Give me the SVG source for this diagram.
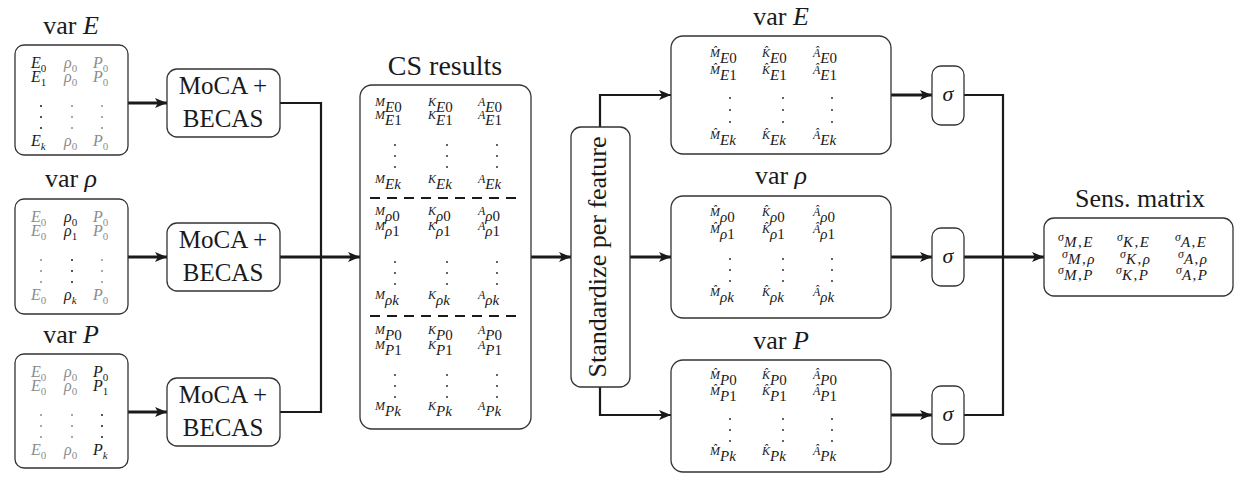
<svg xmlns="http://www.w3.org/2000/svg" width="1236" height="477" viewBox="0 0 1236 477" font-family="Liberation Serif, serif">
<style>
.box{fill:#fff;stroke:#333;stroke-width:1.3}
.arr{fill:none;stroke:#1a1a1a;stroke-width:2.8}
.bus{fill:none;stroke:#1a1a1a;stroke-width:2.2}
.dash{stroke:#1a1a1a;stroke-width:2.2;stroke-dasharray:10 7}
.dk{fill:#1a1a1a}
.dg{fill:#8c8c8c}
</style>
<defs>
<marker id="ah" viewBox="0 0 12 10" refX="12" refY="5" markerWidth="12" markerHeight="10" markerUnits="userSpaceOnUse" orient="auto"><path d="M0,0 L12,5 L0,10 L3,5 z" fill="#1a1a1a"/></marker>
</defs>

<g id="connectors">
<path class="arr" d="M128,103 H167" marker-end="url(#ah)"/>
<path class="arr" d="M128,257 H167" marker-end="url(#ah)"/>
<path class="arr" d="M128,412 H167" marker-end="url(#ah)"/>
<path class="bus" d="M280,103 H321 V412 H280"/>
<path class="arr" d="M280,257 H360" marker-end="url(#ah)"/>
<path class="arr" d="M531,257 H571" marker-end="url(#ah)"/>
<path class="bus" d="M600,127 V95 H671" marker-end="url(#ah)"/>
<path class="arr" d="M630,257 H671" marker-end="url(#ah)"/>
<path class="bus" d="M600,387 V415 H671" marker-end="url(#ah)"/>
<path class="arr" d="M891,95 H932" marker-end="url(#ah)"/>
<path class="arr" d="M891,257 H932" marker-end="url(#ah)"/>
<path class="arr" d="M891,415 H932" marker-end="url(#ah)"/>
<path class="bus" d="M964,95 H1003 V415 H964"/>
<path class="arr" d="M964,257 H1044" marker-end="url(#ah)"/>
</g>

<g id="inE">
<text x="71" y="34" font-family="Liberation Serif, serif" font-size="26" text-anchor="middle" fill="#1a1a1a">var <tspan font-style="italic">E</tspan></text>
<rect class="box" x="15" y="45" width="113" height="110" rx="9"/>
<g font-family="Liberation Serif, serif" font-size="16" font-style="italic" fill="#1a1a1a">
<text x="31" y="68">E<tspan font-size="11" font-style="normal" dy="4">0</tspan></text>
<text x="64" y="68" fill="#8c8c8c">ρ<tspan font-size="11" font-style="normal" dy="4">0</tspan></text>
<text x="93" y="68" fill="#8c8c8c">P<tspan font-size="11" font-style="normal" dy="4">0</tspan></text>
<text x="31" y="82">E<tspan font-size="11" font-style="normal" dy="4">1</tspan></text>
<text x="64" y="82" fill="#8c8c8c">ρ<tspan font-size="11" font-style="normal" dy="4">0</tspan></text>
<text x="93" y="82" fill="#8c8c8c">P<tspan font-size="11" font-style="normal" dy="4">0</tspan></text>
<text x="31" y="146">E<tspan font-size="11" dy="4">k</tspan></text>
<text x="64" y="146" fill="#8c8c8c">ρ<tspan font-size="11" font-style="normal" dy="4">0</tspan></text>
<text x="93" y="146" fill="#8c8c8c">P<tspan font-size="11" font-style="normal" dy="4">0</tspan></text>
</g>
<circle class="dk" cx="41" cy="106" r="1"/><circle class="dk" cx="41" cy="117" r="1"/><circle class="dk" cx="41" cy="128" r="1"/>
<circle class="dg" cx="72" cy="106" r="1"/><circle class="dg" cx="72" cy="117" r="1"/><circle class="dg" cx="72" cy="128" r="1"/>
<circle class="dg" cx="102" cy="106" r="1"/><circle class="dg" cx="102" cy="117" r="1"/><circle class="dg" cx="102" cy="128" r="1"/>
</g>

<g id="inRho">
<text x="71" y="187" font-family="Liberation Serif, serif" font-size="26" text-anchor="middle" fill="#1a1a1a">var <tspan font-style="italic">ρ</tspan></text>
<rect class="box" x="15" y="199" width="113" height="115" rx="9"/>
<g font-family="Liberation Serif, serif" font-size="16" font-style="italic" fill="#1a1a1a">
<text x="31" y="222" fill="#8c8c8c">E<tspan font-size="11" font-style="normal" dy="4">0</tspan></text>
<text x="64" y="222">ρ<tspan font-size="11" font-style="normal" dy="4">0</tspan></text>
<text x="93" y="222" fill="#8c8c8c">P<tspan font-size="11" font-style="normal" dy="4">0</tspan></text>
<text x="31" y="236" fill="#8c8c8c">E<tspan font-size="11" font-style="normal" dy="4">0</tspan></text>
<text x="64" y="236">ρ<tspan font-size="11" font-style="normal" dy="4">1</tspan></text>
<text x="93" y="236" fill="#8c8c8c">P<tspan font-size="11" font-style="normal" dy="4">0</tspan></text>
<text x="31" y="300" fill="#8c8c8c">E<tspan font-size="11" font-style="normal" dy="4">0</tspan></text>
<text x="64" y="300">ρ<tspan font-size="11" dy="4">k</tspan></text>
<text x="93" y="300" fill="#8c8c8c">P<tspan font-size="11" font-style="normal" dy="4">0</tspan></text>
</g>
<circle class="dg" cx="41" cy="260" r="1"/><circle class="dg" cx="41" cy="271" r="1"/><circle class="dg" cx="41" cy="282" r="1"/>
<circle class="dk" cx="72" cy="260" r="1"/><circle class="dk" cx="72" cy="271" r="1"/><circle class="dk" cx="72" cy="282" r="1"/>
<circle class="dg" cx="102" cy="260" r="1"/><circle class="dg" cx="102" cy="271" r="1"/><circle class="dg" cx="102" cy="282" r="1"/>
</g>

<g id="inP">
<text x="71" y="343" font-family="Liberation Serif, serif" font-size="26" text-anchor="middle" fill="#1a1a1a">var <tspan font-style="italic">P</tspan></text>
<rect class="box" x="15" y="354" width="113" height="114" rx="9"/>
<g font-family="Liberation Serif, serif" font-size="16" font-style="italic" fill="#1a1a1a">
<text x="31" y="377" fill="#8c8c8c">E<tspan font-size="11" font-style="normal" dy="4">0</tspan></text>
<text x="64" y="377" fill="#8c8c8c">ρ<tspan font-size="11" font-style="normal" dy="4">0</tspan></text>
<text x="93" y="377">P<tspan font-size="11" font-style="normal" dy="4">0</tspan></text>
<text x="31" y="391" fill="#8c8c8c">E<tspan font-size="11" font-style="normal" dy="4">0</tspan></text>
<text x="64" y="391" fill="#8c8c8c">ρ<tspan font-size="11" font-style="normal" dy="4">0</tspan></text>
<text x="93" y="391">P<tspan font-size="11" font-style="normal" dy="4">1</tspan></text>
<text x="31" y="455" fill="#8c8c8c">E<tspan font-size="11" font-style="normal" dy="4">0</tspan></text>
<text x="64" y="455" fill="#8c8c8c">ρ<tspan font-size="11" font-style="normal" dy="4">0</tspan></text>
<text x="93" y="455">P<tspan font-size="11" dy="4">k</tspan></text>
</g>
<circle class="dg" cx="41" cy="415" r="1"/><circle class="dg" cx="41" cy="426" r="1"/><circle class="dg" cx="41" cy="437" r="1"/>
<circle class="dg" cx="72" cy="415" r="1"/><circle class="dg" cx="72" cy="426" r="1"/><circle class="dg" cx="72" cy="437" r="1"/>
<circle class="dk" cx="102" cy="415" r="1"/><circle class="dk" cx="102" cy="426" r="1"/><circle class="dk" cx="102" cy="437" r="1"/>
</g>

<g id="moca1">
<rect class="box" x="167" y="69" width="113" height="68" rx="10"/>
<text x="223" y="94" font-family="Liberation Serif, serif" font-size="25" text-anchor="middle" fill="#1a1a1a">MoCA +</text>
<text x="223" y="127" font-family="Liberation Serif, serif" font-size="25" text-anchor="middle" fill="#1a1a1a">BECAS</text>
</g>
<g id="moca2">
<rect class="box" x="167" y="223" width="113" height="68" rx="10"/>
<text x="223" y="248" font-family="Liberation Serif, serif" font-size="25" text-anchor="middle" fill="#1a1a1a">MoCA +</text>
<text x="223" y="281" font-family="Liberation Serif, serif" font-size="25" text-anchor="middle" fill="#1a1a1a">BECAS</text>
</g>
<g id="moca3">
<rect class="box" x="167" y="378" width="113" height="68" rx="10"/>
<text x="223" y="403" font-family="Liberation Serif, serif" font-size="25" text-anchor="middle" fill="#1a1a1a">MoCA +</text>
<text x="223" y="436" font-family="Liberation Serif, serif" font-size="25" text-anchor="middle" fill="#1a1a1a">BECAS</text>
</g>

<g id="cs">
<text x="445" y="75" font-family="Liberation Serif, serif" font-size="28" text-anchor="middle" fill="#1a1a1a">CS results</text>
<rect class="box" x="360" y="85" width="171" height="344" rx="12"/>
<g font-family="Liberation Serif, serif" font-size="12" font-style="italic" fill="#1a1a1a">
<text x="375" y="106">M<tspan font-size="15" dy="6">E</tspan><tspan font-size="15" font-style="normal">0</tspan></text>
<text x="428" y="106">K<tspan font-size="15" dy="6">E</tspan><tspan font-size="15" font-style="normal">0</tspan></text>
<text x="478" y="106">A<tspan font-size="15" dy="6">E</tspan><tspan font-size="15" font-style="normal">0</tspan></text>
<text x="375" y="119">M<tspan font-size="15" dy="6">E</tspan><tspan font-size="15" font-style="normal">1</tspan></text>
<text x="428" y="119">K<tspan font-size="15" dy="6">E</tspan><tspan font-size="15" font-style="normal">1</tspan></text>
<text x="478" y="119">A<tspan font-size="15" dy="6">E</tspan><tspan font-size="15" font-style="normal">1</tspan></text>
<text x="375" y="183">M<tspan font-size="15" dy="6">Ek</tspan></text>
<text x="428" y="183">K<tspan font-size="15" dy="6">Ek</tspan></text>
<text x="478" y="183">A<tspan font-size="15" dy="6">Ek</tspan></text>
<text x="375" y="215">M<tspan font-size="15" dy="6">ρ</tspan><tspan font-size="15" font-style="normal">0</tspan></text>
<text x="428" y="215">K<tspan font-size="15" dy="6">ρ</tspan><tspan font-size="15" font-style="normal">0</tspan></text>
<text x="478" y="215">A<tspan font-size="15" dy="6">ρ</tspan><tspan font-size="15" font-style="normal">0</tspan></text>
<text x="375" y="230">M<tspan font-size="15" dy="6">ρ</tspan><tspan font-size="15" font-style="normal">1</tspan></text>
<text x="428" y="230">K<tspan font-size="15" dy="6">ρ</tspan><tspan font-size="15" font-style="normal">1</tspan></text>
<text x="478" y="230">A<tspan font-size="15" dy="6">ρ</tspan><tspan font-size="15" font-style="normal">1</tspan></text>
<text x="375" y="299">M<tspan font-size="15" dy="6">ρk</tspan></text>
<text x="428" y="299">K<tspan font-size="15" dy="6">ρk</tspan></text>
<text x="478" y="299">A<tspan font-size="15" dy="6">ρk</tspan></text>
<text x="375" y="334">M<tspan font-size="15" dy="6">P</tspan><tspan font-size="15" font-style="normal">0</tspan></text>
<text x="428" y="334">K<tspan font-size="15" dy="6">P</tspan><tspan font-size="15" font-style="normal">0</tspan></text>
<text x="478" y="334">A<tspan font-size="15" dy="6">P</tspan><tspan font-size="15" font-style="normal">0</tspan></text>
<text x="375" y="349">M<tspan font-size="15" dy="6">P</tspan><tspan font-size="15" font-style="normal">1</tspan></text>
<text x="428" y="349">K<tspan font-size="15" dy="6">P</tspan><tspan font-size="15" font-style="normal">1</tspan></text>
<text x="478" y="349">A<tspan font-size="15" dy="6">P</tspan><tspan font-size="15" font-style="normal">1</tspan></text>
<text x="375" y="410">M<tspan font-size="15" dy="6">Pk</tspan></text>
<text x="428" y="410">K<tspan font-size="15" dy="6">Pk</tspan></text>
<text x="478" y="410">A<tspan font-size="15" dy="6">Pk</tspan></text>
</g>
<circle class="dk" cx="395" cy="145" r="0.9"/><circle class="dk" cx="395" cy="156" r="0.9"/><circle class="dk" cx="395" cy="167" r="0.9"/>
<circle class="dk" cx="447" cy="145" r="0.9"/><circle class="dk" cx="447" cy="156" r="0.9"/><circle class="dk" cx="447" cy="167" r="0.9"/>
<circle class="dk" cx="497" cy="145" r="0.9"/><circle class="dk" cx="497" cy="156" r="0.9"/><circle class="dk" cx="497" cy="167" r="0.9"/>
<circle class="dk" cx="395" cy="262" r="0.9"/><circle class="dk" cx="395" cy="273" r="0.9"/><circle class="dk" cx="395" cy="284" r="0.9"/>
<circle class="dk" cx="447" cy="262" r="0.9"/><circle class="dk" cx="447" cy="273" r="0.9"/><circle class="dk" cx="447" cy="284" r="0.9"/>
<circle class="dk" cx="497" cy="262" r="0.9"/><circle class="dk" cx="497" cy="273" r="0.9"/><circle class="dk" cx="497" cy="284" r="0.9"/>
<circle class="dk" cx="395" cy="375" r="0.9"/><circle class="dk" cx="395" cy="386" r="0.9"/><circle class="dk" cx="395" cy="397" r="0.9"/>
<circle class="dk" cx="447" cy="375" r="0.9"/><circle class="dk" cx="447" cy="386" r="0.9"/><circle class="dk" cx="447" cy="397" r="0.9"/>
<circle class="dk" cx="497" cy="375" r="0.9"/><circle class="dk" cx="497" cy="386" r="0.9"/><circle class="dk" cx="497" cy="397" r="0.9"/>
<line class="dash" x1="370" y1="198" x2="522" y2="198"/>
<line class="dash" x1="370" y1="316" x2="522" y2="316"/>
</g>

<g id="standardize">
<rect class="box" x="571" y="127" width="59" height="260" rx="10"/>
<text x="0" y="0" transform="translate(606,257) rotate(-90)" font-family="Liberation Serif, serif" font-size="26" text-anchor="middle" fill="#1a1a1a">Standardize per feature</text>
</g>

<g id="outE">
<text x="781" y="25" font-family="Liberation Serif, serif" font-size="26" text-anchor="middle" fill="#1a1a1a">var <tspan font-style="italic">E</tspan></text>
<rect class="box" x="671" y="36" width="220" height="118" rx="12"/>
<g font-family="Liberation Serif, serif" font-size="12" font-style="italic" fill="#1a1a1a">
<text x="710" y="57">M̂<tspan font-size="15" dy="6">E</tspan><tspan font-size="15" font-style="normal">0</tspan></text>
<text x="762" y="57">K̂<tspan font-size="15" dy="6">E</tspan><tspan font-size="15" font-style="normal">0</tspan></text>
<text x="813" y="57">Â<tspan font-size="15" dy="6">E</tspan><tspan font-size="15" font-style="normal">0</tspan></text>
<text x="710" y="74">M̂<tspan font-size="15" dy="6">E</tspan><tspan font-size="15" font-style="normal">1</tspan></text>
<text x="762" y="74">K̂<tspan font-size="15" dy="6">E</tspan><tspan font-size="15" font-style="normal">1</tspan></text>
<text x="813" y="74">Â<tspan font-size="15" dy="6">E</tspan><tspan font-size="15" font-style="normal">1</tspan></text>
<text x="710" y="139">M̂<tspan font-size="15" dy="6">Ek</tspan></text>
<text x="762" y="139">K̂<tspan font-size="15" dy="6">Ek</tspan></text>
<text x="813" y="139">Â<tspan font-size="15" dy="6">Ek</tspan></text>
</g>
<circle class="dk" cx="730" cy="98" r="0.9"/><circle class="dk" cx="730" cy="110" r="0.9"/><circle class="dk" cx="730" cy="122" r="0.9"/>
<circle class="dk" cx="783" cy="98" r="0.9"/><circle class="dk" cx="783" cy="110" r="0.9"/><circle class="dk" cx="783" cy="122" r="0.9"/>
<circle class="dk" cx="832" cy="98" r="0.9"/><circle class="dk" cx="832" cy="110" r="0.9"/><circle class="dk" cx="832" cy="122" r="0.9"/>
</g>

<g id="outRho">
<text x="781" y="184" font-family="Liberation Serif, serif" font-size="26" text-anchor="middle" fill="#1a1a1a">var <tspan font-style="italic">ρ</tspan></text>
<rect class="box" x="671" y="196" width="220" height="122" rx="12"/>
<g font-family="Liberation Serif, serif" font-size="12" font-style="italic" fill="#1a1a1a">
<text x="710" y="216">M̂<tspan font-size="15" dy="6">ρ</tspan><tspan font-size="15" font-style="normal">0</tspan></text>
<text x="762" y="216">K̂<tspan font-size="15" dy="6">ρ</tspan><tspan font-size="15" font-style="normal">0</tspan></text>
<text x="813" y="216">Â<tspan font-size="15" dy="6">ρ</tspan><tspan font-size="15" font-style="normal">0</tspan></text>
<text x="710" y="233">M̂<tspan font-size="15" dy="6">ρ</tspan><tspan font-size="15" font-style="normal">1</tspan></text>
<text x="762" y="233">K̂<tspan font-size="15" dy="6">ρ</tspan><tspan font-size="15" font-style="normal">1</tspan></text>
<text x="813" y="233">Â<tspan font-size="15" dy="6">ρ</tspan><tspan font-size="15" font-style="normal">1</tspan></text>
<text x="710" y="296">M̂<tspan font-size="15" dy="6">ρk</tspan></text>
<text x="762" y="296">K̂<tspan font-size="15" dy="6">ρk</tspan></text>
<text x="813" y="296">Â<tspan font-size="15" dy="6">ρk</tspan></text>
</g>
<circle class="dk" cx="730" cy="259" r="0.9"/><circle class="dk" cx="730" cy="270" r="0.9"/><circle class="dk" cx="730" cy="281" r="0.9"/>
<circle class="dk" cx="783" cy="259" r="0.9"/><circle class="dk" cx="783" cy="270" r="0.9"/><circle class="dk" cx="783" cy="281" r="0.9"/>
<circle class="dk" cx="832" cy="259" r="0.9"/><circle class="dk" cx="832" cy="270" r="0.9"/><circle class="dk" cx="832" cy="281" r="0.9"/>
</g>

<g id="outP">
<text x="781" y="349" font-family="Liberation Serif, serif" font-size="26" text-anchor="middle" fill="#1a1a1a">var <tspan font-style="italic">P</tspan></text>
<rect class="box" x="671" y="360" width="220" height="112" rx="12"/>
<g font-family="Liberation Serif, serif" font-size="12" font-style="italic" fill="#1a1a1a">
<text x="710" y="379">M̂<tspan font-size="15" dy="6">P</tspan><tspan font-size="15" font-style="normal">0</tspan></text>
<text x="762" y="379">K̂<tspan font-size="15" dy="6">P</tspan><tspan font-size="15" font-style="normal">0</tspan></text>
<text x="813" y="379">Â<tspan font-size="15" dy="6">P</tspan><tspan font-size="15" font-style="normal">0</tspan></text>
<text x="710" y="395">M̂<tspan font-size="15" dy="6">P</tspan><tspan font-size="15" font-style="normal">1</tspan></text>
<text x="762" y="395">K̂<tspan font-size="15" dy="6">P</tspan><tspan font-size="15" font-style="normal">1</tspan></text>
<text x="813" y="395">Â<tspan font-size="15" dy="6">P</tspan><tspan font-size="15" font-style="normal">1</tspan></text>
<text x="710" y="455">M̂<tspan font-size="15" dy="6">Pk</tspan></text>
<text x="762" y="455">K̂<tspan font-size="15" dy="6">Pk</tspan></text>
<text x="813" y="455">Â<tspan font-size="15" dy="6">Pk</tspan></text>
</g>
<circle class="dk" cx="730" cy="419" r="0.9"/><circle class="dk" cx="730" cy="430" r="0.9"/><circle class="dk" cx="730" cy="441" r="0.9"/>
<circle class="dk" cx="783" cy="419" r="0.9"/><circle class="dk" cx="783" cy="430" r="0.9"/><circle class="dk" cx="783" cy="441" r="0.9"/>
<circle class="dk" cx="832" cy="419" r="0.9"/><circle class="dk" cx="832" cy="430" r="0.9"/><circle class="dk" cx="832" cy="441" r="0.9"/>
</g>

<g id="sigmaE">
<rect class="box" x="932" y="66" width="32" height="59" rx="9"/>
<text x="948" y="101" font-family="Liberation Serif, serif" font-size="22" font-style="italic" text-anchor="middle" fill="#1a1a1a">σ</text>
</g>
<g id="sigmaRho">
<rect class="box" x="932" y="228" width="32" height="58" rx="9"/>
<text x="948" y="263" font-family="Liberation Serif, serif" font-size="22" font-style="italic" text-anchor="middle" fill="#1a1a1a">σ</text>
</g>
<g id="sigmaP">
<rect class="box" x="932" y="386" width="32" height="58" rx="9"/>
<text x="948" y="421" font-family="Liberation Serif, serif" font-size="22" font-style="italic" text-anchor="middle" fill="#1a1a1a">σ</text>
</g>

<g id="sens">
<text x="1140" y="207" font-family="Liberation Serif, serif" font-size="26" text-anchor="middle" fill="#1a1a1a">Sens. matrix</text>
<rect class="box" x="1044" y="218" width="189" height="78" rx="10"/>
<g font-family="Liberation Serif, serif" font-size="12" font-style="italic" fill="#1a1a1a">
<text x="1058" y="241">σ<tspan font-size="15" letter-spacing="1.5" dy="6">M</tspan><tspan font-size="15" letter-spacing="1.5" font-style="normal">,</tspan><tspan font-size="15">E</tspan></text>
<text x="1117" y="241">σ<tspan font-size="15" letter-spacing="1.5" dy="6">K</tspan><tspan font-size="15" letter-spacing="1.5" font-style="normal">,</tspan><tspan font-size="15">E</tspan></text>
<text x="1175" y="241">σ<tspan font-size="15" letter-spacing="1.5" dy="6">A</tspan><tspan font-size="15" letter-spacing="1.5" font-style="normal">,</tspan><tspan font-size="15">E</tspan></text>
<text x="1062" y="258">σ<tspan font-size="15" letter-spacing="1.5" dy="6">M</tspan><tspan font-size="15" letter-spacing="1.5" font-style="normal">,</tspan><tspan font-size="15">ρ</tspan></text>
<text x="1120" y="258">σ<tspan font-size="15" letter-spacing="1.5" dy="6">K</tspan><tspan font-size="15" letter-spacing="1.5" font-style="normal">,</tspan><tspan font-size="15">ρ</tspan></text>
<text x="1178" y="258">σ<tspan font-size="15" letter-spacing="1.5" dy="6">A</tspan><tspan font-size="15" letter-spacing="1.5" font-style="normal">,</tspan><tspan font-size="15">ρ</tspan></text>
<text x="1058" y="274">σ<tspan font-size="15" letter-spacing="1.5" dy="6">M</tspan><tspan font-size="15" letter-spacing="1.5" font-style="normal">,</tspan><tspan font-size="15">P</tspan></text>
<text x="1116" y="274">σ<tspan font-size="15" letter-spacing="1.5" dy="6">K</tspan><tspan font-size="15" letter-spacing="1.5" font-style="normal">,</tspan><tspan font-size="15">P</tspan></text>
<text x="1176" y="274">σ<tspan font-size="15" letter-spacing="1.5" dy="6">A</tspan><tspan font-size="15" letter-spacing="1.5" font-style="normal">,</tspan><tspan font-size="15">P</tspan></text>
</g>
</g>
</svg>
